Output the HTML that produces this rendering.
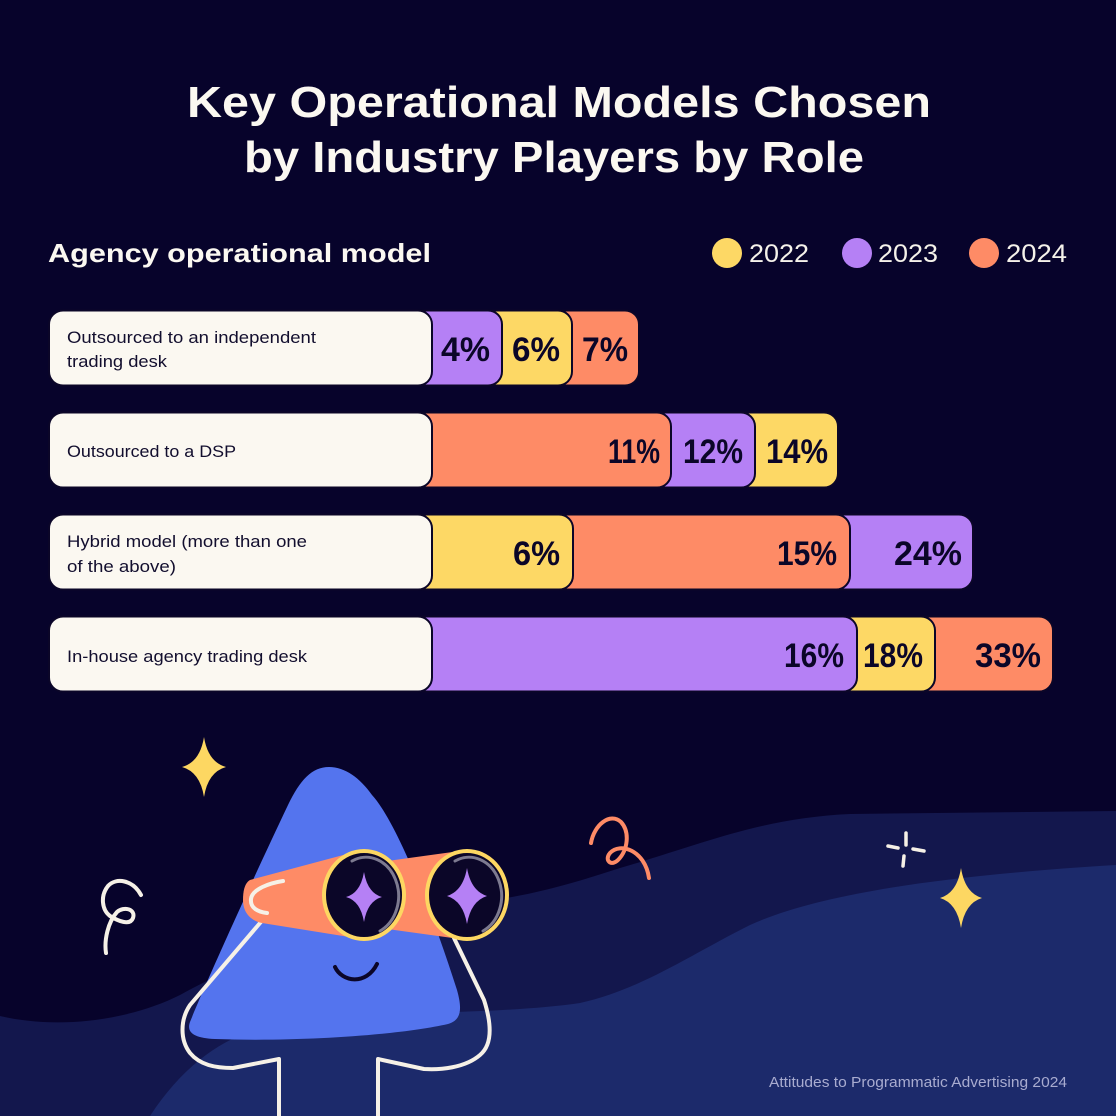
<!DOCTYPE html>
<html>
<head>
<meta charset="utf-8">
<style>
  html, body { margin: 0; padding: 0; background: #07032b; }
  svg { display: block; }
  text { font-family: "Liberation Sans", "DejaVu Sans", sans-serif; }
</style>
</head>
<body>
<svg width="1116" height="1116" viewBox="0 0 1116 1116" xmlns="http://www.w3.org/2000/svg">
  <!-- background -->
  <rect x="0" y="0" width="1116" height="1116" fill="#07032b"/>
  <!-- middle wave band -->
  <path d="M0,1016 C60,1030 130,1020 180,995 C280,940 380,912 470,903 C525,897 565,886 620,868 C700,845 760,818 850,814 L1116,811 L1116,1116 L0,1116 Z" fill="#13174d"/>
  <!-- bottom wave band -->
  <path d="M150,1116 C200,1040 260,1018 340,1015 C420,1013 520,1012 580,1003 C640,990 690,955 750,925 C820,893 950,875 1116,865 L1116,1116 Z" fill="#1c2a6b"/>

  <!-- Title -->
  <text x="187" y="117" font-size="44" font-weight="bold" fill="#fbf8f1" textLength="744" lengthAdjust="spacingAndGlyphs">Key Operational Models Chosen</text>
  <text x="244" y="172" font-size="44" font-weight="bold" fill="#fbf8f1" textLength="620" lengthAdjust="spacingAndGlyphs">by Industry Players by Role</text>

  <!-- Subtitle -->
  <text x="48" y="262" font-size="26" font-weight="bold" fill="#fbf8f1" textLength="383" lengthAdjust="spacingAndGlyphs">Agency operational model</text>

  <!-- Legend -->
  <circle cx="727" cy="253" r="15" fill="#fdd865"/>
  <text x="749" y="262" font-size="25" fill="#f5f2ea" textLength="60" lengthAdjust="spacingAndGlyphs">2022</text>
  <circle cx="857" cy="253" r="15" fill="#b580f5"/>
  <text x="878" y="262" font-size="25" fill="#f5f2ea" textLength="60" lengthAdjust="spacingAndGlyphs">2023</text>
  <circle cx="984" cy="253" r="15" fill="#fe8b66"/>
  <text x="1006" y="262" font-size="25" fill="#f5f2ea" textLength="61" lengthAdjust="spacingAndGlyphs">2024</text>

  <g stroke="#0b0628" stroke-width="2">
    <!-- Row 1 -->
    <rect x="410" y="310.5" width="229" height="75" rx="14" fill="#fe8b66"/>
    <rect x="410" y="310.5" width="162" height="75" rx="14" fill="#fdd865"/>
    <rect x="410" y="310.5" width="92" height="75" rx="14" fill="#b580f5"/>
    <rect x="49" y="310.5" width="383" height="75" rx="14" fill="#fbf8f1"/>
    <!-- Row 2 -->
    <rect x="410" y="412.5" width="428" height="75" rx="14" fill="#fdd865"/>
    <rect x="410" y="412.5" width="345" height="75" rx="14" fill="#b580f5"/>
    <rect x="410" y="412.5" width="261" height="75" rx="14" fill="#fe8b66"/>
    <rect x="49" y="412.5" width="383" height="75" rx="14" fill="#fbf8f1"/>
    <!-- Row 3 -->
    <rect x="410" y="514.5" width="563" height="75" rx="14" fill="#b580f5"/>
    <rect x="410" y="514.5" width="440" height="75" rx="14" fill="#fe8b66"/>
    <rect x="410" y="514.5" width="163" height="75" rx="14" fill="#fdd865"/>
    <rect x="49" y="514.5" width="383" height="75" rx="14" fill="#fbf8f1"/>
    <!-- Row 4 -->
    <rect x="410" y="616.5" width="643" height="75" rx="14" fill="#fe8b66"/>
    <rect x="410" y="616.5" width="525" height="75" rx="14" fill="#fdd865"/>
    <rect x="410" y="616.5" width="447" height="75" rx="14" fill="#b580f5"/>
    <rect x="49" y="616.5" width="383" height="75" rx="14" fill="#fbf8f1"/>
  </g>

  <!-- Row labels -->
  <g font-size="17" fill="#120e2e">
    <text x="67" y="343" textLength="249" lengthAdjust="spacingAndGlyphs">Outsourced to an independent</text>
    <text x="67" y="367" textLength="100" lengthAdjust="spacingAndGlyphs">trading desk</text>
    <text x="67" y="457" textLength="169" lengthAdjust="spacingAndGlyphs">Outsourced to a DSP</text>
    <text x="67" y="547" textLength="240" lengthAdjust="spacingAndGlyphs">Hybrid model (more than one</text>
    <text x="67" y="572" textLength="109" lengthAdjust="spacingAndGlyphs">of the above)</text>
    <text x="67" y="662" textLength="240" lengthAdjust="spacingAndGlyphs">In-house agency trading desk</text>
  </g>

  <!-- Percent labels -->
  <g font-size="34" font-weight="bold" fill="#0b0628">
    <text x="441" y="361" textLength="49" lengthAdjust="spacingAndGlyphs">4%</text>
    <text x="512" y="361" textLength="48" lengthAdjust="spacingAndGlyphs">6%</text>
    <text x="582" y="361" textLength="46" lengthAdjust="spacingAndGlyphs">7%</text>

    <text x="608" y="463" textLength="52" lengthAdjust="spacingAndGlyphs">11%</text>
    <text x="683" y="463" textLength="60" lengthAdjust="spacingAndGlyphs">12%</text>
    <text x="766" y="463" textLength="62" lengthAdjust="spacingAndGlyphs">14%</text>

    <text x="513" y="565" textLength="47" lengthAdjust="spacingAndGlyphs">6%</text>
    <text x="777" y="565" textLength="60" lengthAdjust="spacingAndGlyphs">15%</text>
    <text x="894" y="565" textLength="68" lengthAdjust="spacingAndGlyphs">24%</text>

    <text x="784" y="667" textLength="60" lengthAdjust="spacingAndGlyphs">16%</text>
    <text x="863" y="667" textLength="60" lengthAdjust="spacingAndGlyphs">18%</text>
    <text x="975" y="667" textLength="66" lengthAdjust="spacingAndGlyphs">33%</text>
  </g>

  <!-- Doodles -->
  <path d="M204,737 Q208,762 226,767 Q208,772 204,797 Q200,772 182,767 Q200,762 204,737 Z" fill="#fdd762"/>
  <path d="M961,868 Q965,893 982,898 Q965,903 961,928 Q957,903 940,898 Q957,893 961,868 Z" fill="#fdd762"/>
  <path d="M141,895 C133,880 116,877 108,886 C100,896 102,910 110,916 C118,921 130,926 133,918 C136,909 124,906 117,912 C108,922 104,940 106,953" fill="none" stroke="#f6f1e7" stroke-width="4" stroke-linecap="round"/>
  <path d="M591,843 C594,825 610,812 621,822 C630,832 628,850 618,860 C611,867 604,860 610,853 C620,842 645,850 649,878" fill="none" stroke="#fe8b66" stroke-width="4" stroke-linecap="round"/>
  <g stroke="#f6f1e7" stroke-width="3.5" stroke-linecap="round">
    <line x1="906" y1="833" x2="906" y2="845"/>
    <line x1="904" y1="856" x2="903" y2="866"/>
    <line x1="888" y1="846" x2="898" y2="848"/>
    <line x1="913" y1="849" x2="924" y2="851"/>
  </g>

  <!-- Character body -->
  <path d="M329,767 C312,767 300,780 288,805 C250,885 205,985 190,1022 C186,1033 195,1038 215,1039 C300,1042 400,1035 448,1024 C462,1020 462,1008 457,990 C430,905 395,820 372,795 C360,778 345,767 329,767 Z" fill="#5474ee"/>

  <!-- Smile -->
  <path d="M335,967 C342,982 366,986 377,964" fill="none" stroke="#0b0628" stroke-width="4" stroke-linecap="round"/>

  <!-- Arms -->
  <g fill="none" stroke="#f6f1e7" stroke-width="4" stroke-linecap="round" stroke-linejoin="round">
    <path d="M266,916 L190,1005 C180,1020 180,1040 190,1053 C200,1065 215,1068 233,1068 L279,1059 L279,1118"/>
    <path d="M454,938 L484,1000 C492,1025 492,1045 480,1055 C465,1068 440,1070 424,1069 L378,1059 L378,1118"/>
  </g>

  <!-- Binoculars -->
  <path d="M250,880 L362,850 L368,940 L262,923 C248,920 243,910 243,900 C243,890 245,883 250,880 Z" fill="#fe8b66"/>
  <path d="M380,862 L467,850 L467,940 L380,928 Z" fill="#fe8b66"/>
  <ellipse cx="364" cy="895" rx="40" ry="44" fill="#0b0628" stroke="#fdd762" stroke-width="4"/>
  <ellipse cx="467" cy="895" rx="40" ry="44" fill="#0b0628" stroke="#fdd762" stroke-width="4"/>
  <path d="M352,861 A32,38 0 0 1 380,931" fill="none" stroke="#7d7a90" stroke-width="3" stroke-linecap="round"/>
  <path d="M455,861 A32,38 0 0 1 483,931" fill="none" stroke="#7d7a90" stroke-width="3" stroke-linecap="round"/>
  <path d="M364,872 Q367.5,893 382,897 Q367.5,901 364,922 Q360.5,901 346,897 Q360.5,893 364,872 Z" fill="#b580f5"/>
  <path d="M467,868 Q471,891 487,896 Q471,901 467,924 Q463,901 447,896 Q463,891 467,868 Z" fill="#b580f5"/>

  <!-- Hand curl -->
  <path d="M283,881 C270,883 252,889 251,899 C250,908 258,912 267,913" fill="none" stroke="#f6f1e7" stroke-width="4" stroke-linecap="round"/>

  <!-- Footer -->
  <text x="769" y="1087" font-size="14.5" fill="#a9acd0" textLength="298" lengthAdjust="spacingAndGlyphs">Attitudes to Programmatic Advertising 2024</text>
</svg>
</body>
</html>
